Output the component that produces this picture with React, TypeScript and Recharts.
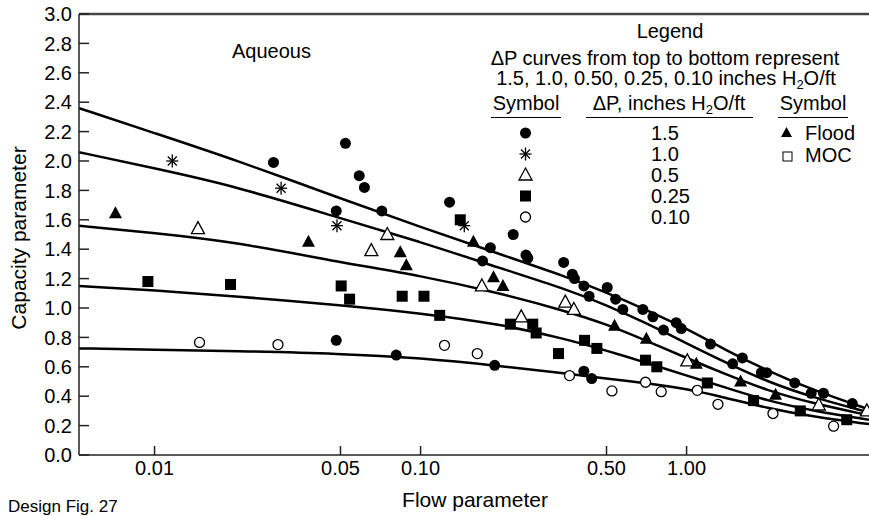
import React from 'react';
import {
  ComposedChart,
  Line,
  Scatter,
  XAxis,
  YAxis,
  ReferenceLine,
} from 'recharts';

const FONT = '"Liberation Sans", Arial, Helvetica, sans-serif';

// flow parameter ticks (log axis) and capacity parameter ticks
const xTicks = [0.01, 0.05, 0.1, 0.5, 1.0];
const yTicks = [0, 0.2, 0.4, 0.6, 0.8, 1.0, 1.2, 1.4, 1.6, 1.8, 2.0, 2.2, 2.4, 2.6, 2.8, 3.0];

// pressure-drop curves
const curveX = [0.0052, 0.01, 0.02, 0.05, 0.1, 0.2, 0.35, 0.5, 0.7, 1.0, 1.4, 2.0, 3.0, 4.85];
const curve150 = [2.36, 2.19, 2.01, 1.745, 1.55, 1.365, 1.215, 1.105, 0.99, 0.86, 0.715, 0.575, 0.44, 0.31];
const curve100 = [2.06, 1.95, 1.83, 1.61, 1.45, 1.27, 1.13, 1.02, 0.9, 0.76, 0.63, 0.5, 0.39, 0.29];
const curve050 = [1.56, 1.51, 1.45, 1.31, 1.22, 1.1, 0.98, 0.89, 0.78, 0.66, 0.55, 0.44, 0.35, 0.27];
const curve025 = [1.15, 1.12, 1.08, 1.02, 0.965, 0.89, 0.79, 0.71, 0.63, 0.54, 0.46, 0.37, 0.3, 0.24];
const curve010 = [0.725, 0.717, 0.707, 0.69, 0.66, 0.605, 0.555, 0.52, 0.49, 0.45, 0.39, 0.32, 0.26, 0.21];

// measured points [flow parameter, capacity parameter]
const pts150: [number, number][] = [
  [0.028, 1.99], [0.0522, 2.12], [0.0588, 1.9], [0.0615, 1.82], [0.0482, 1.66], [0.0715, 1.66],
  [0.1285, 1.72], [0.171, 1.32], [0.183, 1.41], [0.223, 1.5], [0.249, 1.36], [0.253, 1.34],
  [0.345, 1.31], [0.372, 1.23], [0.379, 1.2], [0.411, 1.15], [0.43, 1.08], [0.503, 1.14],
  [0.541, 1.06], [0.576, 0.99], [0.685, 0.99], [0.747, 0.94], [0.819, 0.85], [0.914, 0.9],
  [0.955, 0.86], [1.23, 0.755], [1.49, 0.62], [1.62, 0.66], [1.91, 0.56], [2.0, 0.56],
  [2.55, 0.49], [2.94, 0.42], [3.27, 0.42], [4.2, 0.35], [0.0482, 0.78], [0.081, 0.68],
  [0.19, 0.61], [0.411, 0.57], [0.44, 0.52],
];
const pts100: [number, number][] = [[0.01166, 2.0], [0.0299, 1.815], [0.0485, 1.56], [0.146, 1.56]];
const pts050: [number, number][] = [
  [0.01456, 1.54], [0.0653, 1.39], [0.075, 1.5], [0.17, 1.15], [0.35, 1.04], [0.377, 0.99],
  [0.239, 0.94], [1.006, 0.64], [3.14, 0.34], [4.76, 0.3],
];
const pts025: [number, number][] = [
  [0.00944, 1.18], [0.0193, 1.16], [0.0503, 1.15], [0.0541, 1.06], [0.0853, 1.08], [0.103, 1.08],
  [0.118, 0.95], [0.141, 1.6], [0.2175, 0.89], [0.264, 0.89], [0.272, 0.83], [0.33, 0.69],
  [0.4135, 0.78], [0.46, 0.725], [0.701, 0.645], [0.773, 0.6], [1.197, 0.49], [1.786, 0.37],
  [2.676, 0.3], [4.0, 0.24],
];
const pts010: [number, number][] = [
  [0.01476, 0.766], [0.0291, 0.751], [0.123, 0.746], [0.1634, 0.69], [0.363, 0.54], [0.524, 0.436],
  [0.701, 0.495], [0.803, 0.431], [1.097, 0.44], [1.312, 0.345], [2.112, 0.282], [3.57, 0.196],
];
const ptsFlood: [number, number][] = [
  [0.00713, 1.645], [0.0379, 1.45], [0.0839, 1.38], [0.0884, 1.29], [0.158, 1.45], [0.188, 1.21],
  [0.204, 1.15], [0.536, 0.88], [0.706, 0.79], [1.088, 0.62], [1.596, 0.5], [2.16, 0.41],
];

const legendValues = ['1.5', '1.0', '0.5', '0.25', '0.10'];

const toCurve = (ys: number[]) => curveX.map((x, i) => ({ x, y: ys[i] }));
const toPts = (p: [number, number][]) => p.map(([x, y]) => ({ x, y }));

// marker shapes
const Dot = ({ cx, cy }: any) => <circle cx={cx} cy={cy} r={5.5} fill="#000" />;
const Ring = ({ cx, cy }: any) => <circle cx={cx} cy={cy} r={5} fill="#fff" stroke="#000" strokeWidth={1.3} />;
const Box = ({ cx, cy }: any) => <rect x={cx - 5.5} y={cy - 5.5} width={11} height={11} fill="#000" />;
const Tri = ({ cx, cy, open }: any) => (
  <path
    d={`M${cx},${cy - 7} L${cx + 6.5},${cy + 5} L${cx - 6.5},${cy + 5} Z`}
    fill={open ? '#fff' : '#000'}
    stroke="#000"
    strokeWidth={open ? 1.3 : 0}
  />
);
const OpenTri = (p: any) => <Tri {...p} open />;
const Star = ({ cx, cy }: any) => (
  <g stroke="#000" strokeWidth={1.3}>
    <line x1={cx} y1={cy - 6.5} x2={cx} y2={cy + 6.5} />
    <line x1={cx - 6} y1={cy} x2={cx + 6} y2={cy} />
    <line x1={cx - 4.5} y1={cy - 4.5} x2={cx + 4.5} y2={cy + 4.5} />
    <line x1={cx - 4.5} y1={cy + 4.5} x2={cx + 4.5} y2={cy - 4.5} />
  </g>
);

const legendShapes = [Dot, Star, OpenTri, Box, Ring];

const T = ({ x, y, children, align = 'left', size = 20 }: any) => (
  <div
    style={{
      position: 'absolute',
      left: x,
      top: y - size / 2,
      transform: align === 'center' ? 'translateX(-50%)' : undefined,
      fontSize: size,
      lineHeight: `${size}px`,
      whiteSpace: 'nowrap',
    }}
  >
    {children}
  </div>
);

const Rule = ({ x1, x2, y }: any) => (
  <div style={{ position: 'absolute', left: x1, top: y, width: x2 - x1, height: 1.5, background: '#000' }} />
);

const H2O = () => (
  <span>
    H<sub style={{ fontSize: 13, verticalAlign: '-4px', lineHeight: 0 }}>2</sub>O/ft
  </span>
);

export default function App() {
  const tick = { fill: '#000', fontSize: 20, fontFamily: FONT };
  return (
    <div
      style={{
        position: 'absolute',
        left: 0,
        top: 0,
        width: 869,
        height: 516,
        overflow: 'hidden',
        background: '#fff',
        fontFamily: FONT,
        color: '#000',
      }}
    >
      <ComposedChart width={869} height={516} margin={{ top: 14, right: 0, bottom: 31, left: 0 }}>
        <XAxis
          dataKey="x"
          type="number"
          scale="log"
          domain={[0.0052, 4.85]}
          allowDataOverflow
          ticks={xTicks}
          tickFormatter={(v: number) => v.toFixed(2)}
          tick={tick}
          tickSize={-9}
          tickMargin={15}
          height={30}
          stroke="#222"
          strokeWidth={1.5}
        />
        <YAxis
          dataKey="y"
          type="number"
          domain={[0, 3]}
          ticks={yTicks}
          interval={0}
          tickFormatter={(v: number) => v.toFixed(1)}
          tick={tick}
          tickSize={-10}
          tickMargin={17}
          width={79}
          stroke="#222"
          strokeWidth={1.5}
        />
        <ReferenceLine y={3} stroke="#444" strokeWidth={2.5} ifOverflow="visible" />
        {[curve150, curve100, curve050, curve025, curve010].map((c, i) => (
          <Line
            key={i}
            data={toCurve(c)}
            dataKey="y"
            type="basis"
            stroke="#000"
            strokeWidth={2.5}
            dot={false}
            activeDot={false}
            isAnimationActive={false}
          />
        ))}
        <Scatter data={toPts(pts150)} shape={Dot} isAnimationActive={false} />
        <Scatter data={toPts(pts100)} shape={Star} isAnimationActive={false} />
        <Scatter data={toPts(pts050)} shape={OpenTri} isAnimationActive={false} />
        <Scatter data={toPts(pts025)} shape={Box} isAnimationActive={false} />
        <Scatter data={toPts(pts010)} shape={Ring} isAnimationActive={false} />
        <Scatter data={toPts(ptsFlood)} shape={Tri} isAnimationActive={false} />
      </ComposedChart>

      <div style={{ position: 'absolute', inset: 0, pointerEvents: 'none' }}>
        <T x={232} y={51}>Aqueous</T>
        <T x={670} y={31} align="center">Legend</T>
        <T x={665} y={58} align="center">ΔP curves from top to bottom represent</T>
        <T x={666} y={78} align="center">
          1.5, 1.0, 0.50, 0.25, 0.10 inches <H2O />
        </T>
        <T x={526} y={103} align="center">Symbol</T>
        <T x={669} y={103} align="center">
          ΔP, inches <H2O />
        </T>
        <T x={813} y={103} align="center">Symbol</T>
        <Rule x1={491} x2={561} y={116.5} />
        <Rule x1={586} x2={753} y={116.5} />
        <Rule x1={778} x2={848} y={116.5} />
        {legendValues.map((v, i) => (
          <T key={v} x={651} y={133 + i * 21}>{v}</T>
        ))}
        <svg style={{ position: 'absolute', left: 0, top: 0 }} width={869} height={516}>
          {legendShapes.map((S, i) => (
            <S key={i} cx={525.5} cy={133 + i * 21} />
          ))}
          <path d="M786.5,127 L792,137 L781,137 Z" fill="#000" />
          <rect x={783} y={152} width={9} height={9} fill="#fff" stroke="#000" strokeWidth={1} />
        </svg>
        <T x={805} y={133}>Flood</T>
        <T x={805} y={155}>MOC</T>
        <T x={475} y={499} align="center" size={21}>Flow parameter</T>
        <div
          style={{
            position: 'absolute',
            left: 18,
            top: 238,
            transform: 'translate(-50%, -50%) rotate(-90deg)',
            fontSize: 21,
            lineHeight: '21px',
            whiteSpace: 'nowrap',
          }}
        >
          Capacity parameter
        </div>
        <T x={8} y={506} size={17}>Design Fig. 27</T>
      </div>
    </div>
  );
}
